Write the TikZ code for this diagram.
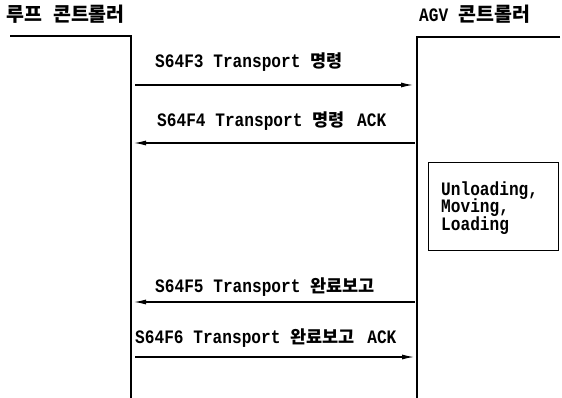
\documentclass[tikz,border=0pt]{standalone}
\usepackage{fontspec}
\setmainfont{Liberation Mono}[FakeStretch=0.85]
\newfontfamily\kr{Noto Sans CJK KR}
\usetikzlibrary{arrows.meta}
\newcommand{\K}[1]{{\kr\bfseries\fontsize{17.5}{18}\selectfont #1}}
\newcommand{\KH}[1]{{\kr\bfseries\fontsize{19.5}{20}\selectfont #1}}
\tikzset{
  lbl/.style={font=\bfseries\fontsize{19}{18}\selectfont, inner sep=0pt, anchor=base},
  hdr/.style={font=\bfseries\fontsize{19}{20}\selectfont, inner sep=0pt, anchor=base west},
  life/.style={line width=1.3pt},
  msg/.style={line width=1.1pt, -{Latex[length=12pt,width=5pt]}},
}
\begin{document}
\begin{tikzpicture}[x=1pt,y=-1pt]
\useasboundingbox (0,0) rectangle (562,398);
% headers
\node[hdr] (hl) at (6,22) {\KH{루프}\hspace{11pt}\KH{콘트롤러}};
\node[hdr] (hr) at (419,22) {AGV\hspace{10pt}\KH{콘트롤러}};
% lifelines
\coordinate (l0) at (10,36);
\coordinate (l1) at (131,36);
\coordinate (l2) at (131,398);
\coordinate (r0) at (560,37);
\coordinate (r1) at (417,37);
\coordinate (r2) at (417,398);
\draw[life] (l0) -- (l1) -- (l2);
\draw[life] (r0) -- (r1) -- (r2);
% messages
\coordinate (a1s) at (135,85); \coordinate (a1e) at (413,85);
\coordinate (a2s) at (415,143); \coordinate (a2e) at (134,143);
\coordinate (a3s) at (415,302); \coordinate (a3e) at (134,302);
\coordinate (a4s) at (135,357); \coordinate (a4e) at (414,357);
\draw[msg] (a1s) -- (a1e);
\draw[msg] (a2s) -- (a2e);
\draw[msg] (a3s) -- (a3e);
\draw[msg] (a4s) -- (a4e);
\node[lbl, anchor=base west] (t1) at (155,68) {S64F3 Transport \K{명령}};
\node[lbl, anchor=base west] (t2) at (157,127) {S64F4 Transport \K{명령}\hspace{3pt} ACK};
\node[lbl, anchor=base west] (t3) at (155,292) {S64F5 Transport \K{완료보고}};
\node[lbl, anchor=base west] (t4) at (135,343) {S64F6 Transport \K{완료보고}\hspace{3pt} ACK};
% box
\node[draw, line width=1.2pt, minimum width=130pt, minimum height=88pt, anchor=north west, inner sep=0pt] (box) at (428,162) {};
\node[lbl, anchor=base west] (b1) at (441,196) {Unloading,};
\node[lbl, anchor=base west] (b2) at (441,213) {Moving,};
\node[lbl, anchor=base west] (b3) at (441,230) {Loading};
\end{tikzpicture}
\end{document}
